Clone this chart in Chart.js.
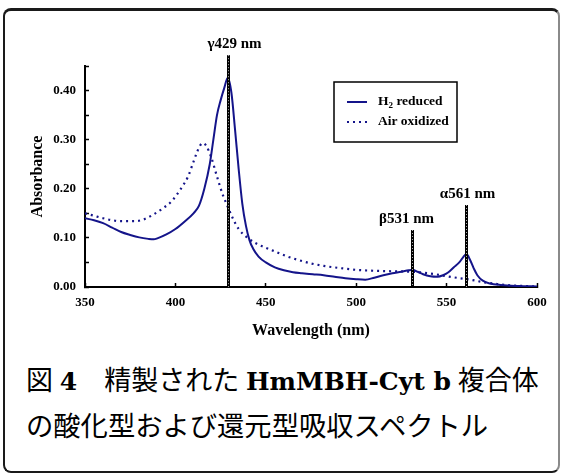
<!DOCTYPE html>
<html>
<head>
<meta charset="utf-8">
<script src="https://cdn.jsdelivr.net/npm/chart.js@4.4.0/dist/chart.umd.min.js"></script>
<style>
  html, body { margin: 0; padding: 0; background: #fff; }
  #wrap { position: relative; width: 564px; height: 473px; overflow: hidden; }
  #frame {
    position: absolute; left: 3px; top: 8px; width: 553px; height: 460px;
    border: 2px solid #1a1a1a; border-top-width: 3px; border-right-color: #8a8a8a; border-radius: 8px;
    pointer-events: none;
  }
  #chartBox { position: absolute; left: 0; top: 0; width: 564px; height: 350px; }
  .caption {
    position: absolute; left: 26px; white-space: nowrap; color: #000;
    font-family: 'Liberation Serif', 'Noto Sans CJK JP', serif; font-size: 27px; line-height: 32px;
  }
  .caption .lat { font-family: 'DejaVu Serif', serif; font-weight: bold; font-size: 25px; }
</style>
</head>
<body>
<div id="wrap">
  <div id="chartBox"><canvas id="spectrum"></canvas></div>
  <div class="caption" style="top: 365px;">図 <span class="lat">4</span>　精製された <span class="lat">HmMBH-Cyt b</span> 複合体</div>
  <div class="caption" style="top: 411px; font-size: 27.3px;">の酸化型および還元型吸収スペクトル</div>
  <div id="frame"></div>
</div>
<script>
// H2 reduced spectrum (solid)
const reducedNm = [350, 355, 360, 365, 370, 375, 380, 385, 388, 390, 395, 400, 405, 410, 413, 416, 419, 421, 423, 425, 427, 429,
  431, 433, 435, 437, 439, 441, 443, 446, 450, 455, 460, 465, 470, 476, 482, 488, 494, 500, 505, 510, 515, 520, 525, 529, 531,
  534, 537, 541, 545, 548, 551, 554, 557, 559, 561, 563, 565, 567, 570, 574, 580, 590, 600];
const reducedAbs = [0.140, 0.136, 0.130, 0.121, 0.112, 0.106, 0.101, 0.098, 0.097, 0.099, 0.107, 0.118, 0.133, 0.150, 0.165, 0.200, 0.250, 0.300, 0.350, 0.380, 0.405, 0.426,
  0.395, 0.320, 0.240, 0.170, 0.125, 0.095, 0.078, 0.062, 0.050, 0.040, 0.034, 0.030, 0.028, 0.026, 0.024, 0.021, 0.018, 0.016, 0.015, 0.019, 0.024, 0.028, 0.031, 0.034, 0.035,
  0.031, 0.026, 0.022, 0.021, 0.024, 0.030, 0.040, 0.050, 0.060, 0.067, 0.055, 0.038, 0.024, 0.013, 0.007, 0.004, 0.002, 0.001];

// Air oxidized spectrum (dotted)
const oxidizedNm = [350, 355, 360, 365, 370, 377, 382, 388, 393, 398, 403, 407, 410, 412, 414, 415, 417, 420, 423, 426, 429, 432, 435,
  440, 445, 450, 456, 462, 468, 475, 482, 490, 500, 510, 520, 531, 540, 550, 557, 563, 570, 578, 587, 600];
const oxidizedAbs = [0.150, 0.145, 0.140, 0.136, 0.134, 0.134, 0.137, 0.148, 0.160, 0.175, 0.200, 0.225, 0.255, 0.275, 0.290, 0.293, 0.288, 0.262, 0.225, 0.190, 0.163, 0.138, 0.118,
  0.100, 0.088, 0.080, 0.071, 0.062, 0.055, 0.048, 0.043, 0.039, 0.035, 0.033, 0.032, 0.031, 0.028, 0.022, 0.018, 0.015, 0.010, 0.006, 0.003, 0.001];

const seriesLabels = ['H₂ reduced', 'Air oxidized'];

// peak markers
const markerNm = [429, 531, 561];
const markerTop = [0.472, 0.116, 0.167];
const markerLabels = ['γ429 nm', 'β531 nm', 'α561 nm'];
const markerShift = [6, -6, 1];

const SERIF = "'Liberation Serif', 'Times New Roman', serif";
const NAVY = '#14148a';

// draws text, with a "₂" rendered as a lowered small 2
function drawLabel(ctx, text, x, y) {
  const parts = text.split('₂');
  ctx.font = `bold 13.5px ${SERIF}`;
  ctx.fillText(parts[0], x, y);
  if (parts.length < 2) return;
  x += ctx.measureText(parts[0]).width;
  ctx.font = `bold 9px ${SERIF}`;
  ctx.fillText('2', x, y + 4);
  x += ctx.measureText('2').width;
  ctx.font = `bold 13.5px ${SERIF}`;
  ctx.fillText(parts[1], x, y);
}

const annotations = {
  id: 'annotations',
  afterDatasetsDraw(chart) {
    const { ctx, chartArea, scales: { x, y } } = chart;
    ctx.save();

    // vertical marker lines with labels
    markerNm.forEach((nm, i) => {
      const px = Math.round(x.getPixelForValue(nm)) + 0.5;
      const top = y.getPixelForValue(markerTop[i]);
      const bottom = y.getPixelForValue(0);
      ctx.setLineDash([]);
      ctx.strokeStyle = '#000';
      ctx.lineWidth = 3;
      ctx.beginPath(); ctx.moveTo(px, top); ctx.lineTo(px, bottom); ctx.stroke();
      ctx.setLineDash([1, 2]);
      ctx.strokeStyle = 'rgba(255,255,255,0.7)';
      ctx.lineWidth = 1;
      ctx.beginPath(); ctx.moveTo(px, top); ctx.lineTo(px, bottom); ctx.stroke();

      ctx.setLineDash([]);
      ctx.fillStyle = '#000';
      ctx.font = `bold 15px ${SERIF}`;
      ctx.textAlign = 'center';
      ctx.textBaseline = 'middle';
      ctx.fillText(markerLabels[i], px + markerShift[i], top - 11);
    });

    // boxed legend inside the plot
    const bx = chartArea.left + 249, by = chartArea.top + 16;
    ctx.strokeStyle = '#000';
    ctx.lineWidth = 1.5;
    ctx.strokeRect(bx, by, 123, 60);
    chart.data.datasets.forEach((ds, i) => {
      const ly = by + 20 + i * 20;
      ctx.strokeStyle = ds.borderColor;
      ctx.lineWidth = 2;
      ctx.setLineDash(ds.borderDash || []);
      ctx.beginPath(); ctx.moveTo(bx + 13, ly); ctx.lineTo(bx + 33, ly); ctx.stroke();
      ctx.setLineDash([]);
      ctx.fillStyle = '#000';
      ctx.textAlign = 'left';
      ctx.textBaseline = 'middle';
      drawLabel(ctx, ds.label, bx + 44, ly);
    });

    ctx.restore();
  }
};

Chart.defaults.font.family = SERIF;
Chart.defaults.font.weight = 'bold';
Chart.defaults.color = '#000';

new Chart(document.getElementById('spectrum'), {
  type: 'line',
  data: {
    datasets: [
      {
        label: seriesLabels[0],
        data: reducedNm.map((nm, i) => ({ x: nm, y: reducedAbs[i] })),
        borderColor: NAVY,
        borderWidth: 2,
        pointRadius: 0,
        cubicInterpolationMode: 'monotone'
      },
      {
        label: seriesLabels[1],
        data: oxidizedNm.map((nm, i) => ({ x: nm, y: oxidizedAbs[i] })),
        borderColor: NAVY,
        borderWidth: 2.2,
        borderDash: [2, 4],
        pointRadius: 0,
        cubicInterpolationMode: 'monotone'
      }
    ]
  },
  options: {
    responsive: true,
    maintainAspectRatio: false,
    animation: false,
    layout: { padding: { top: 66, right: 27, left: 0, bottom: 0 } },
    plugins: { legend: { display: false }, tooltip: { enabled: false } },
    scales: {
      x: {
        type: 'linear',
        min: 350,
        max: 600,
        border: { color: '#000', width: 2 },
        grid: { drawOnChartArea: false, tickLength: -4, tickColor: '#000', tickWidth: 1.5 },
        ticks: { stepSize: 50, padding: 12, font: { size: 13, weight: 'bold' } },
        title: { display: true, text: 'Wavelength (nm)', font: { size: 16, weight: 'bold' }, padding: { top: 0, bottom: 10 } },
        afterFit(scale) { scale.height = 63; }
      },
      y: {
        min: 0,
        max: 0.45,
        border: { color: '#000', width: 2 },
        grid: { drawOnChartArea: false, tickLength: -4, tickColor: '#000', tickWidth: 1.5 },
        ticks: {
          stepSize: 0.05,
          padding: 13,
          font: { size: 13, weight: 'bold' },
          callback: v => Math.round(v * 100) % 10 === 0 ? v.toFixed(2) : ''
        },
        title: { display: true, text: 'Absorbance', font: { size: 16, weight: 'bold' }, padding: { top: 28, bottom: 0 } },
        afterFit(scale) { scale.width = 85; }
      }
    }
  },
  plugins: [annotations]
});
</script>
</body>
</html>
